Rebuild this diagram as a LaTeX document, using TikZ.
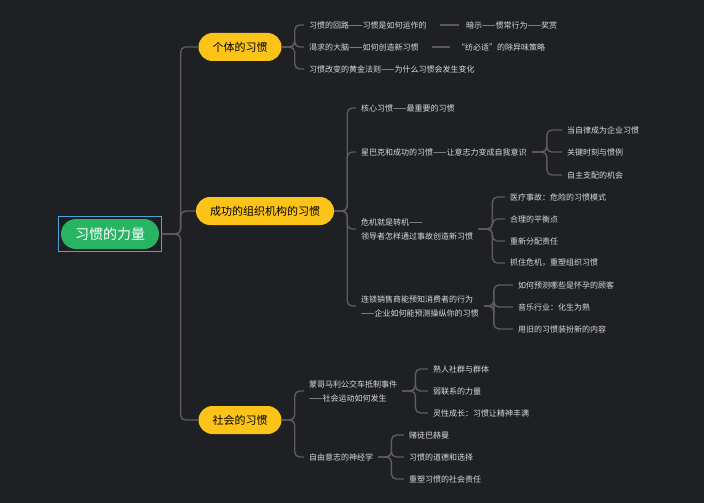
\documentclass[tikz,border=0pt]{standalone}
\usepackage{fontspec}
\setmainfont{Noto Sans CJK SC}
\usetikzlibrary{fit}
\definecolor{bgdark}{HTML}{1E2024}
\definecolor{linegray}{HTML}{5C5C5C}
\definecolor{txtgray}{HTML}{DADADA}
\definecolor{pillyellow}{HTML}{FCC419}
\definecolor{pillgreen}{HTML}{28B463}
\definecolor{framblue}{HTML}{4FA3D9}

\begin{document}
\begin{tikzpicture}[x=1pt,y=-1pt]
\tikzstyle{pill}=[fill=pillyellow,rounded corners=14pt,minimum height=28pt,inner xsep=14pt,font=\fontsize{11}{13}\selectfont,text=black];
\tikzstyle{leaf}=[anchor=west,inner xsep=5pt,inner ysep=1pt,font=\fontsize{8}{14}\selectfont,text=txtgray,align=left];
\tikzstyle{conn}=[draw=linegray,line width=1.4pt,rounded corners=5pt];

\fill[bgdark] (0,0) rectangle (704,503);
\useasboundingbox (0,0) rectangle (704,503);

% root
\node [fill=pillgreen,rounded corners=15pt,minimum width=98pt,minimum height=30pt,text=white,font=\fontsize{14}{16}\selectfont] (root) at (110,234) {习惯的力量};
\node [draw=framblue,line width=0.8pt,fit=(root),inner sep=2pt] (frame) {};

% main branches
\node [pill] (indiv) at (240,47) {个体的习惯};
\node [pill] (org) at (265,211) {成功的组织机构的习惯};
\node [pill] (soc) at (240,420) {社会的习惯};

\draw [conn] (frame.east) -- ++(19,0) |- (indiv.west);
\draw [conn] (frame.east) -- ++(19,0) |- (org.west);
\draw [conn] (frame.east) -- ++(19,0) |- (soc.west);

% individual habits
\node [leaf] (loop) at (304,25) {习惯的回路——习惯是如何运作的};
\node [leaf] (crave) at (304,47) {渴求的大脑——如何创造新习惯};
\node [leaf] (gold) at (304,69) {习惯改变的黄金法则——为什么习惯会发生变化};
\node [leaf] (cue) at (461,25) {暗示——惯常行为——奖赏};
\node [leaf] (febreze) at (452,47) {“纺必适”的除异味策略};
\foreach \c in {loop,crave,gold}
  \draw [conn] (indiv.east) -- ++(13,0) |- (\c.west);
\draw [conn] ([xshift=8pt]loop.east) -- ([xshift=-2pt]cue.west);
\draw [conn] ([xshift=8pt]crave.east) -- ([xshift=-2pt]febreze.west);

% organisations
\node [leaf] (keystone) at (356,108) {核心习惯——最重要的习惯};
\node [leaf] (sbux) at (356,152) {星巴克和成功的习惯——让意志力变成自我意识};
\node [leaf] (crisis) at (356,229) {危机就是转机——\\领导者怎样通过事故创造新习惯};
\node [leaf] (retail) at (356,306) {连锁销售商能预知消费者的行为\\——企业如何能预测操纵你的习惯};
\foreach \c in {keystone,sbux,crisis,retail}
  \draw [conn] (org.east) -- ++(13,0) |- (\c.west);

\node [leaf] (disc) at (562,130) {当自律成为企业习惯};
\node [leaf] (flash) at (562,152) {关键时刻与惯例};
\node [leaf] (auton) at (562,175) {自主支配的机会};
\foreach \c in {disc,flash,auton}
  \draw [conn] (sbux.east) -- ++(15,0) |- (\c.west);

\node [leaf] (medic) at (505,197) {医疗事故：危险的习惯模式};
\node [leaf] (truce) at (505,219) {合理的平衡点};
\node [leaf] (duty) at (505,241) {重新分配责任};
\node [leaf] (seize) at (505,263) {抓住危机，重塑组织习惯};
\foreach \c in {medic,truce,duty,seize}
  \draw [conn] (crisis.east) -- ++(14,0) |- (\c.west);

\node [leaf] (preg) at (513,285) {如何预测哪些是怀孕的顾客};
\node [leaf] (music) at (513,307) {音乐行业：化生为熟};
\node [leaf] (dress) at (513,329) {用旧的习惯装扮新的内容};
\foreach \c in {preg,music,dress}
  \draw [conn] (retail.east) -- ++(10,0) |- (\c.west);

% society
\node [leaf] (bus) at (304,391) {蒙哥马利公交车抵制事件\\——社会运动如何发生};
\node [leaf] (will) at (304,457) {自由意志的神经学};
\foreach \c in {bus,will}
  \draw [conn] (soc.east) -- ++(13,0) |- (\c.west);

\node [leaf] (friends) at (428,369) {熟人社群与群体};
\node [leaf] (weak) at (428,391) {弱联系的力量};
\node [leaf] (spirit) at (428,413) {灵性成长：习惯让精神丰满};
\foreach \c in {friends,weak,spirit}
  \draw [conn] (bus.east) -- ++(13,0) |- (\c.west);

\node [leaf] (gambler) at (404,435) {赌徒巴赫曼};
\node [leaf] (ethics) at (404,457) {习惯的道德和选择};
\node [leaf] (remake) at (404,479) {重塑习惯的社会责任};
\foreach \c in {gambler,ethics,remake}
  \draw [conn] (will.east) -- ++(13,0) |- (\c.west);
\end{tikzpicture}
\end{document}
